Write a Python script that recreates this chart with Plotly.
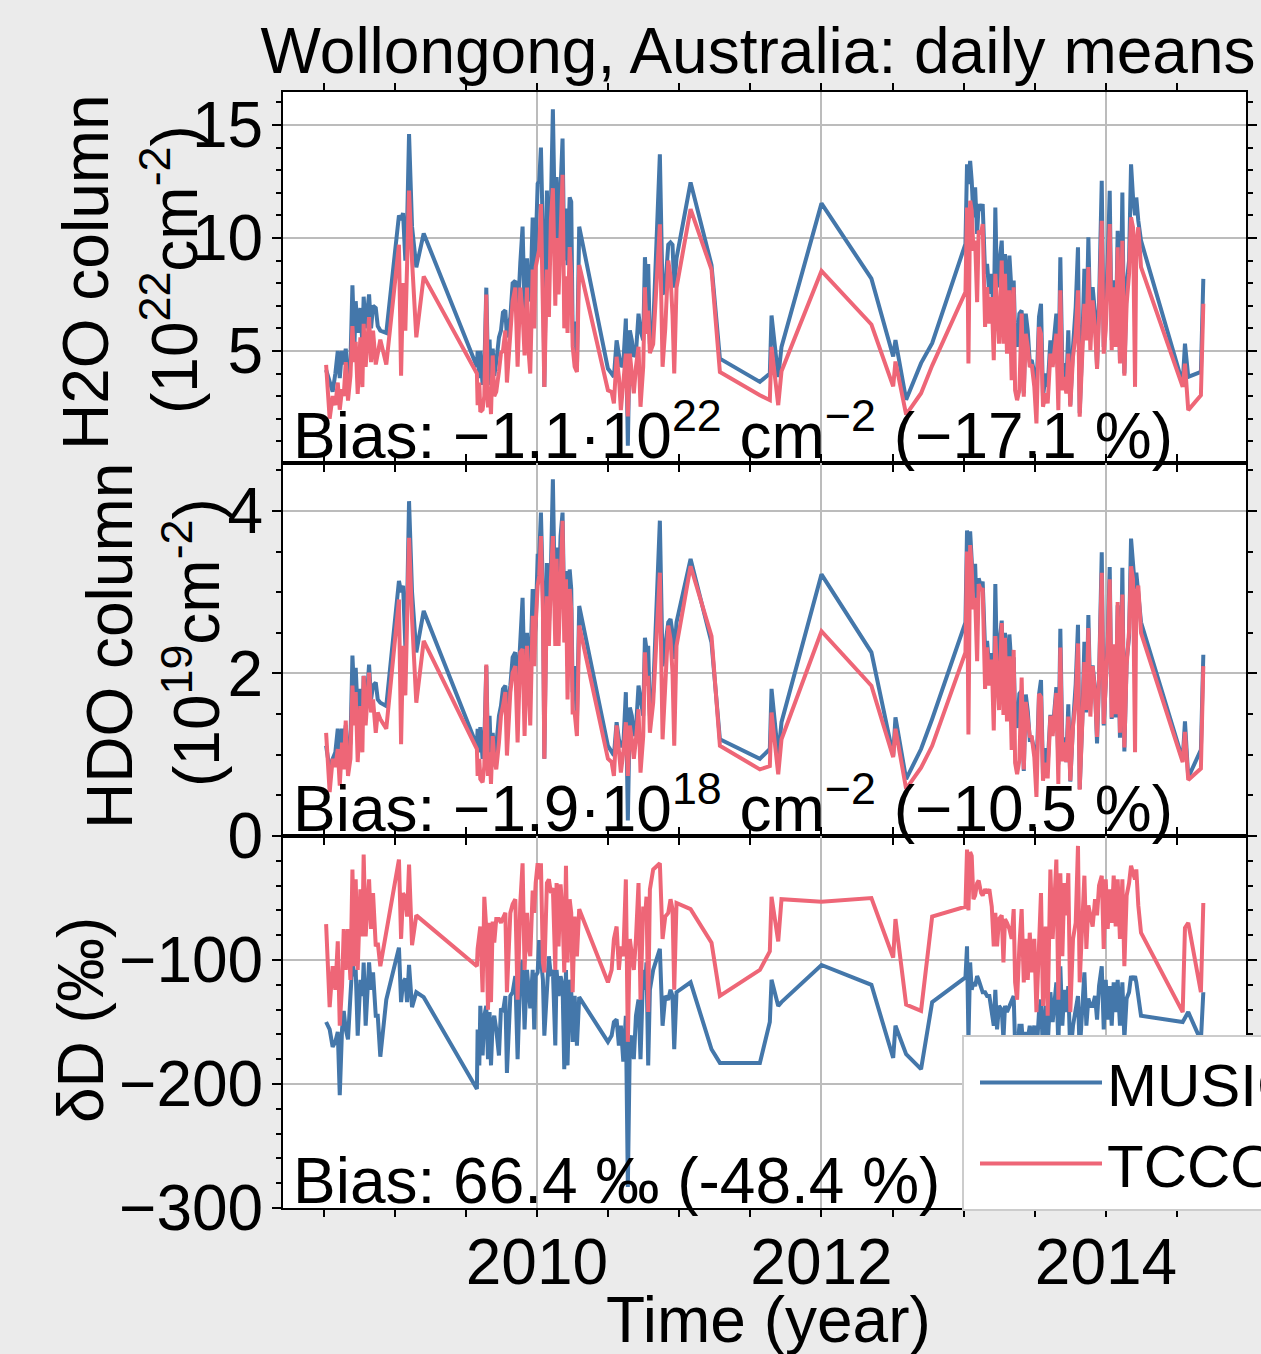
import plotly.graph_objects as go

# ---------------- data (decimal year, daily means) ----------------
years = [2008.518, 2008.543, 2008.564, 2008.583, 2008.600, 2008.614, 2008.630, 2008.642, 2008.656, 2008.672,
         2008.689, 2008.703, 2008.717, 2008.726, 2008.740, 2008.759, 2008.773, 2008.782, 2008.796, 2008.820,
         2008.834, 2008.848, 2008.867, 2008.881, 2008.899, 2008.941, 2009.030, 2009.045, 2009.059, 2009.075,
         2009.087, 2009.101, 2009.122, 2009.152, 2009.204,
         2009.578, 2009.583, 2009.595, 2009.602, 2009.618, 2009.630, 2009.644, 2009.656, 2009.667, 2009.677,
         2009.689, 2009.700, 2009.714, 2009.733, 2009.747, 2009.761, 2009.778, 2009.789, 2009.813, 2009.829,
         2009.848, 2009.864, 2009.883, 2009.899, 2009.913, 2009.930, 2009.941, 2009.953, 2009.970, 2009.981,
         2009.991, 2010.005, 2010.016, 2010.028, 2010.042, 2010.052, 2010.070, 2010.084, 2010.098, 2010.112,
         2010.129, 2010.138, 2010.152, 2010.166, 2010.180, 2010.192, 2010.204, 2010.215, 2010.230, 2010.241,
         2010.251, 2010.265, 2010.281, 2010.297,
         2010.499, 2010.525, 2010.541, 2010.560, 2010.576, 2010.590, 2010.607, 2010.625, 2010.639, 2010.653,
         2010.667, 2010.681, 2010.696, 2010.714, 2010.728, 2010.747, 2010.759, 2010.770, 2010.782, 2010.794,
         2010.817, 2010.864, 2010.883, 2010.902, 2010.923, 2010.939, 2010.953, 2010.965, 2010.981, 2011.080,
         2011.227, 2011.286, 2011.567, 2011.637, 2011.649, 2011.696, 2011.719,
         2012.000, 2012.351, 2012.504, 2012.520, 2012.595, 2012.700, 2012.778, 2013.012,
         2013.023, 2013.033, 2013.045, 2013.056, 2013.068, 2013.080, 2013.094, 2013.105, 2013.122, 2013.133,
         2013.150, 2013.164, 2013.180, 2013.197, 2013.211, 2013.222, 2013.234, 2013.248, 2013.267, 2013.279,
         2013.290, 2013.304, 2013.321, 2013.337, 2013.351, 2013.361, 2013.375, 2013.391, 2013.407, 2013.422,
         2013.436, 2013.450, 2013.464, 2013.478, 2013.496, 2013.511, 2013.529, 2013.543, 2013.557, 2013.576,
         2013.590, 2013.609, 2013.625, 2013.651, 2013.665, 2013.679, 2013.693, 2013.707, 2013.721, 2013.735,
         2013.749, 2013.768, 2013.787, 2013.803, 2013.815, 2013.834, 2013.848, 2013.862, 2013.876, 2013.890,
         2013.906, 2013.923, 2013.937, 2013.951, 2013.970, 2013.984, 2013.998, 2014.012, 2014.026, 2014.040,
         2014.054, 2014.068, 2014.082, 2014.098, 2014.115, 2014.129, 2014.145, 2014.162, 2014.176, 2014.190,
         2014.204, 2014.213, 2014.227, 2014.246, 2014.539, 2014.555, 2014.578, 2014.667, 2014.684]

# H2O column (1e22 cm-2)
h2o_musica = [4.16, 3.6, 3.2, 4.0, 5.0, 3.8, 5.0, 4.4, 5.1, 3.6,
              4.5, 7.9, 5.2, 7.2, 5.8, 6.9, 5.3, 7.4, 6.0, 7.5,
              6.0, 7.0, 6.9, 6.1, 5.9, 5.8, 11.0, 10.8, 11.1, 9.0,
              10.5, 14.6, 10.5, 8.7, 10.2,
              4.3, 5.0, 3.8, 5.0, 3.5, 4.1, 7.8, 4.2, 5.5, 3.5,
              5.1, 3.9, 4.5, 5.6, 5.9, 6.7, 6.8, 5.6, 6.5, 8.0,
              8.1, 6.5, 8.9, 10.5, 6.8, 9.1, 7.5, 7.2, 10.9, 8.3,
              9.5, 12.4, 12.5, 14.0, 10.0, 3.4, 12.1, 8.5, 11.4, 15.7,
              9.5, 12.7, 10.0, 12.5, 14.4, 9.0, 11.3, 8.8, 11.8, 11.6,
              5.8, 6.3, 4.15, 10.5,
              4.22, 4.0, 3.85, 5.47, 4.74, 4.3, 4.44, 6.43, 0.8, 5.91,
              5.47, 4.74, 4.9, 6.65, 5.91, 5.47, 9.15, 7.82, 8.85, 5.3,
              6.0, 13.7, 7.5, 7.8, 9.7, 9.8, 9.7, 7.8, 9.1, 12.46,
              8.8, 4.66, 3.63, 4.0, 6.57, 3.85, 5.18,
              11.53, 8.2, 4.75, 5.48, 2.84, 4.46, 5.34, 9.74,
              13.26, 12.38, 13.41, 12.53, 10.91, 12.24, 10.18, 11.5, 11.21, 11.5,
              8.41, 8.85, 7.53, 8.41, 6.21, 11.35, 7.82, 8.71, 9.88, 7.24,
              9.29, 6.65, 9.22, 7.53, 8.12, 5.76, 5.18, 6.65, 6.79, 3.12,
              6.65, 5.9, 4.5, 4.59, 4.0, 3.12, 6.5, 7.09, 2.97, 4.0,
              3.41, 5.47, 4.88, 6.65, 3.41, 9.15, 4.29, 4.44, 3.41, 5.91,
              2.6, 5.18, 6.94, 9.59, 2.24, 5.47, 8.63, 5.76, 10.03, 6.06,
              7.82, 6.65, 4.29, 7.09, 12.53, 5.18, 6.65, 9.0, 12.09, 5.47,
              8.12, 5.47, 10.32, 4.59, 12.01, 4.0, 7.97, 9.0, 13.26, 11.79,
              11.0, 11.79, 10.76, 9.88, 3.56, 5.32, 3.85, 4.07, 8.19]
h2o_tccon = [4.38, 2.0, 3.0, 2.6, 3.6, 2.4, 3.3, 3.0, 4.5, 2.8,
             3.9, 6.1, 4.5, 5.4, 3.1, 5.6, 3.4, 6.2, 4.3, 6.5,
             4.5, 5.9, 4.4, 5.0, 5.5, 4.4, 9.7, 3.9, 8.0, 5.9,
             8.5, 12.1, 9.0, 5.6, 8.3,
             4.0, 2.6, 3.6, 2.3, 2.4, 3.0, 7.5, 2.5, 3.4, 2.2,
             4.8, 3.0, 3.2, 4.1, 4.9, 5.0, 5.9, 3.6, 5.8, 7.2,
             7.8, 4.3, 7.8, 6.7, 4.8, 7.8, 5.0, 4.0, 8.6, 6.0,
             8.7, 9.2, 9.5, 11.5, 7.5, 3.4, 8.6, 6.5, 10.8, 12.2,
             7.0, 10.0, 7.5, 10.5, 12.8, 6.0, 8.3, 5.8, 9.6, 8.4,
             5.2, 4.3, 4.07, 8.8,
             3.26, 3.19, 2.68, 4.74, 3.85, 2.38, 3.7, 4.88, 2.1, 4.88,
             4.0, 3.12, 4.3, 5.18, 2.53, 4.3, 7.82, 5.76, 6.79, 4.9,
             5.3, 10.6, 4.3, 6.0, 9.0, 8.3, 6.6, 4.0, 7.8, 11.28,
             8.6, 4.07, 3.04, 2.82, 5.18, 2.6, 4.1,
             8.54, 6.17, 3.43, 4.53, 2.18, 3.13, 4.35, 7.61,
             11.35, 4.44, 11.65, 11.21, 9.44, 9.88, 7.16, 10.32, 10.18, 10.62,
             6.06, 7.82, 6.21, 7.38, 4.59, 8.41, 7.09, 5.32, 9.0, 5.32,
             8.41, 4.88, 7.68, 3.71, 7.82, 3.26, 2.82, 3.26, 6.65, 2.97,
             5.76, 5.2, 4.29, 4.4, 3.41, 1.79, 6.06, 5.76, 2.53, 3.12,
             2.68, 4.88, 4.29, 5.76, 2.38, 7.68, 3.26, 3.85, 3.12, 4.88,
             2.53, 4.74, 5.76, 7.68, 2.09, 4.88, 7.09, 5.47, 8.71, 5.03,
             7.24, 5.91, 4.2, 6.5, 10.76, 4.88, 5.91, 8.12, 10.62, 5.03,
             7.82, 5.18, 9.59, 4.44, 9.88, 3.9, 7.09, 8.41, 10.91, 10.47,
             3.41, 9.88, 10.47, 8.71, 3.41, 4.44, 2.38, 3.04, 7.09]

# HDO column (1e19 cm-2)
hdo_musica = [1.11, 0.82, 0.95, 1.03, 1.32, 0.95, 1.32, 1.03, 1.36, 0.95,
              1.15, 2.22, 1.68, 2.07, 1.52, 1.81, 1.36, 1.97, 1.48, 2.11,
              1.68, 1.85, 1.89, 1.68, 1.64, 1.6, 3.14, 3.0, 3.08, 2.34,
              2.79, 4.12, 3.0, 2.26, 2.77,
              1.11, 1.32, 1.03, 1.34, 0.95, 1.15, 2.09, 1.07, 1.48, 0.95,
              1.27, 1.03, 1.11, 1.48, 1.6, 1.81, 1.85, 1.52, 1.85, 2.2,
              2.26, 1.77, 2.46, 2.93, 1.81, 2.5, 2.09, 2.05, 3.04, 2.42,
              2.59, 3.45, 3.45, 3.98, 3.0, 0.95, 3.36, 2.59, 3.28, 4.39,
              2.59, 3.55, 2.83, 3.69, 3.98, 2.71, 3.26, 2.09, 3.28, 3.04,
              1.77, 2.09, 1.4, 2.83,
              1.11, 1.03, 0.99, 1.4, 1.19, 1.11, 1.11, 1.77, 0.19, 1.58,
              1.48, 1.23, 1.32, 1.85, 1.68, 1.48, 2.44, 2.3, 2.34, 1.48,
              1.77, 3.88, 2.09, 2.34, 2.63, 2.67, 2.5, 2.18, 2.63, 3.41,
              2.38, 1.19, 0.95, 1.07, 1.81, 0.98, 1.4,
              3.22, 2.26, 0.99, 1.46, 0.7, 1.07, 1.44, 2.63,
              3.76, 3.40, 3.75, 3.42, 3.00, 3.35, 2.60, 3.17, 3.06, 3.13,
              2.29, 2.40, 2.04, 2.25, 1.64, 3.10, 2.06, 2.34, 2.65, 1.89,
              2.50, 1.78, 2.48, 2.04, 2.20, 1.49, 1.33, 1.75, 1.79, 0.80,
              1.74, 1.54, 1.19, 1.20, 1.06, 0.80, 1.74, 1.92, 0.76, 1.08,
              0.88, 1.49, 1.29, 1.83, 0.88, 2.55, 1.13, 1.21, 0.91, 1.62,
              0.67, 1.37, 1.87, 2.60, 0.58, 1.46, 2.39, 1.52, 2.72, 1.63,
              2.10, 1.80, 1.14, 1.94, 3.49, 1.36, 1.83, 2.39, 3.31, 1.44,
              2.23, 1.46, 2.84, 1.21, 3.30, 1.04, 2.16, 2.45, 3.66, 3.25,
              3.04, 3.24, 2.92, 2.63, 0.94, 1.41, 0.72, 1.06, 2.23]
hdo_tccon = [1.27, 0.54, 0.95, 0.85, 1.07, 0.62, 1.15, 0.82, 1.42, 0.74,
             0.95, 1.85, 1.36, 1.77, 0.91, 1.6, 1.03, 1.97, 1.36, 2.01,
             1.52, 1.68, 1.27, 1.52, 1.44, 1.32, 2.91, 1.13, 2.34, 1.73,
             2.63, 3.67, 2.67, 1.64, 2.4,
             1.07, 0.74, 0.95, 0.7, 0.66, 0.86, 2.11, 0.74, 1.03, 0.64,
             1.23, 0.95, 0.82, 1.15, 1.48, 1.6, 1.77, 0.99, 1.77, 2.01,
             2.09, 1.15, 2.26, 2.3, 1.23, 2.34, 1.68, 1.36, 2.71, 2.09,
             2.59, 3.08, 3.2, 3.69, 2.75, 0.95, 2.95, 2.34, 3.16, 3.69,
             2.34, 3.41, 2.34, 3.36, 3.88, 2.38, 3.16, 1.68, 3.04, 2.79,
             1.52, 1.52, 1.23, 2.59,
             0.95, 0.91, 0.74, 1.36, 1.03, 0.78, 1.03, 1.4, 0.74, 1.36,
             1.19, 0.95, 1.19, 1.56, 0.78, 1.23, 2.26, 1.85, 1.97, 1.27,
             1.64, 3.24, 1.19, 1.81, 2.59, 2.42, 2.01, 1.11, 2.34, 3.32,
             2.46, 1.11, 0.82, 0.86, 1.52, 0.76, 1.19,
             2.52, 1.85, 0.97, 1.32, 0.58, 0.84, 1.11, 2.26,
             3.50, 1.25, 3.58, 3.30, 2.79, 2.93, 2.15, 3.10, 3.02, 3.05,
             1.81, 2.32, 1.85, 2.17, 1.30, 2.46, 2.01, 1.55, 2.62, 1.49,
             2.44, 1.41, 2.21, 1.06, 2.29, 0.90, 0.76, 0.93, 1.95, 0.82,
             1.65, 1.43, 1.23, 1.22, 0.97, 0.48, 1.75, 1.71, 0.68, 0.90,
             0.71, 1.48, 1.23, 1.76, 0.64, 2.32, 0.92, 1.15, 0.91, 1.47,
             0.68, 1.35, 1.67, 2.37, 0.57, 1.42, 2.14, 1.55, 2.56, 1.47,
             2.09, 1.75, 1.22, 1.94, 3.24, 1.38, 1.78, 2.34, 3.16, 1.46,
             2.36, 1.50, 2.88, 1.27, 2.97, 1.09, 2.10, 2.52, 3.32, 3.16,
             1.03, 2.99, 3.08, 2.50, 0.91, 1.28, 0.69, 0.83, 2.09]

# deltaD (permil)
dd_musica = [-150, -156, -170, -166, -158, -209, -156, -141, -156, -164,
             -129, -102, -113, -108, -161, -116, -129, -102, -153, -102,
             -124, -110, -145, -145, -178, -132, -90, -134, -118, -115,
             -134, -104, -138, -126, -130,
             -204, -156, -185, -137, -177, -145, -137, -180, -142, -185,
             -150, -145, -156, -177, -139, -142, -129, -191, -129, -126,
             -113, -180, -110, -100, -156, -108, -129, -139, -108, -156,
             -113, -110, -84, -102, -116, -161, -118, -97, -113, -108,
             -169, -108, -129, -113, -120, -188, -108, -185, -116, -124,
             -166, -129, -169, -130,
             -166, -161, -150, -148, -169, -153, -182, -145, -283, -166,
             -161, -180, -145, -132, -180, -108, -124, -102, -185, -124,
             -108, -91, -153, -129, -132, -124, -129, -172, -126, -118,
             -172, -183, -183, -150, -116, -137, -134,
             -104, -120, -179, -153, -176, -188, -134, -114,
             -89, -165, -102, -124, -118, -121, -113, -116, -124, -126,
             -126, -129, -129, -142, -153, -124, -156, -137, -140, -164,
             -137, -142, -137, -132, -129, -169, -175, -153, -153, -177,
             -158, -164, -153, -164, -153, -177, -142, -132, -175, -137,
             -169, -126, -150, -118, -169, -105, -153, -124, -142, -121,
             -177, -153, -137, -129, -175, -142, -110, -153, -131, -137,
             -137, -129, -148, -121, -105, -156, -116, -148, -121, -153,
             -118, -142, -116, -153, -118, -164, -131, -126, -113, -116,
             -113, -118, -129, -145, -150, -147, -142, -165, -126]
dd_tccon = [-71, -138, -105, -124, -85, -153, -121, -75, -108, -75,
            -116, -27, -105, -35, -108, -43, -81, -15, -81, -35,
            -75, -46, -89, -86, -105, -78, -19, -83, -46, -50,
            -65, -23, -88, -64, -69,
            -105, -91, -75, -73, -126, -49, -75, -140, -70, -134,
            -69, -86, -67, -67, -70, -67, -62, -126, -62, -55,
            -51, -132, -54, -22, -108, -62, -89, -97, -44, -62,
            -38, -22, -35, -22, -102, -110, -38, -35, -46, -42,
            -108, -38, -89, -39, -62, -110, -24, -102, -51, -62,
            -126, -65, -97, -59,
            -118, -108, -83, -73, -108, -89, -97, -35, -166, -83,
            -97, -108, -83, -38, -132, -57, -67, -49, -142, -43,
            -27, -22, -83, -65, -62, -51, -59, -124, -54, -59,
            -86, -129, -108, -93, -49, -85, -51,
            -53, -50, -98, -67, -136, -141, -65, -57,
            -11, -60, -13, -16, -51, -48, -38, -36, -46, -48,
            -43, -46, -43, -57, -89, -62, -89, -67, -64, -102,
            -67, -70, -75, -83, -59, -118, -132, -89, -59, -118,
            -83, -116, -78, -110, -83, -142, -73, -46, -137, -73,
            -145, -27, -83, -19, -132, -30, -97, -38, -64, -30,
            -142, -83, -70, -8, -118, -67, -32, -91, -56, -64,
            -73, -51, -64, -40, -32, -91, -35, -75, -43, -70,
            -32, -73, -35, -83, -35, -105, -48, -38, -24, -30,
            -35, -27, -56, -78, -142, -74, -70, -126, -54]

x_ticks = [2010, 2012, 2014]
x_tick_labels = ["2010", "2012", "2014"]
series_names = ["MUSICA", "TCCON"]
bias_texts = ["Bias: \u22121.1\u00b710<sup>22</sup> cm<sup>\u22122</sup> (\u221217.1 %)",
              "Bias: \u22121.9\u00b710<sup>18</sup> cm<sup>\u22122</sup> (\u221210.5 %)",
              "Bias: 66.4 \u2030 (-48.4 %)"]

# ---------------- styling ----------------
BLUE = "#4477AA"
RED = "#EE6677"
FONT = "Liberation Sans, Arial, Helvetica, sans-serif"
FS = 64
W, H = 1261, 1354
L, R, T, B = 283, 15, 92, 146
PW, PH = W - L - R, H - T - B

fig = go.Figure()
panels = [("x", "y", h2o_musica, h2o_tccon, True),
          ("x2", "y2", hdo_musica, hdo_tccon, False),
          ("x3", "y3", dd_musica, dd_tccon, False)]
for xa, ya, vm, vt, show in panels:
    fig.add_trace(go.Scatter(x=years, y=vm, mode="lines", name=series_names[0],
                             line=dict(color=BLUE, width=4), legendgroup="m",
                             showlegend=show, xaxis=xa, yaxis=ya))
    fig.add_trace(go.Scatter(x=years, y=vt, mode="lines", name=series_names[1],
                             line=dict(color=RED, width=4), legendgroup="t",
                             showlegend=show, xaxis=xa, yaxis=ya))

def py(px):  # pixel row -> paper fraction
    return (H - B - px) / PH

def pxf(px):  # pixel column -> paper fraction
    return (px - L) / PW

grid = dict(showgrid=True, gridcolor="#bcbcbc", gridwidth=2, zeroline=False,
            showline=True, linecolor="black", linewidth=2, mirror="ticks",
            ticks="outside", tickcolor="black", tickwidth=2,
            tickfont=dict(size=FS, color="black", family=FONT))

xbase = dict(grid, range=[2008.215, 2014.984], tickmode="array", tickvals=x_ticks,
             ticktext=x_tick_labels, ticklen=7, ticklabelstandoff=-10,
             minor=dict(tickmode="linear", tick0=2010, dtick=0.5, ticks="outside",
                        ticklen=7, tickwidth=1.5, tickcolor="black", showgrid=False))

ymin = dict(ticks="outside", ticklen=5, tickwidth=1.5, tickcolor="black", showgrid=False,
            tickmode="linear", tick0=0)
doms = [[py(463), 1.0], [py(836), py(463)], [0.0, py(836)]]
fig.update_layout(
    xaxis=dict(xbase, anchor="y", showticklabels=False, matches="x3"),
    xaxis2=dict(xbase, anchor="y2", showticklabels=False, matches="x3"),
    xaxis3=dict(xbase, anchor="y3", showticklabels=True),
    yaxis=dict(grid, domain=doms[0], anchor="x", range=[0.04, 16.46],
               tickmode="array", tickvals=[5, 10, 15], ticklen=9, ticklabelstandoff=-4,
               minor=dict(ymin, dtick=1)),
    yaxis2=dict(grid, domain=doms[1], anchor="x2", range=[0, 4.59],
                tickmode="array", tickvals=[0, 2, 4], ticklen=9, ticklabelstandoff=-4,
                minor=dict(ymin, dtick=0.5)),
    yaxis3=dict(grid, domain=doms[2], anchor="x3", range=[-300, 0],
                tickmode="array", tickvals=[-300, -200, -100], ticklen=9, ticklabelstandoff=-4,
                minor=dict(ymin, dtick=20)),
)

annotations = []
ylabels = [("H2O column", 86, 272), ("(10<sup>22</sup>cm<sup>-2</sup>)", 170, 270),
           ("HDO column", 110, 646), ("(10<sup>19</sup>cm<sup>-2</sup>)", 192, 643),
           ("\u03b4D (\u2030)", 81, 1020)]
for txt, cx, cy in ylabels:
    annotations.append(dict(text=txt, xref="paper", yref="paper", x=pxf(cx), y=py(cy),
                            xanchor="center", yanchor="middle", textangle=-90,
                            showarrow=False, font=dict(size=FS, color="black", family=FONT)))
annotations.append(dict(text="Time (year)", xref="paper", yref="paper", x=pxf(768), y=py(1320),
                        xanchor="center", yanchor="middle", showarrow=False,
                        font=dict(size=FS, color="black", family=FONT)))
for i, txt in enumerate(bias_texts):
    ydom = ["y domain", "y2 domain", "y3 domain"][i]
    xdom = ["x domain", "x2 domain", "x3 domain"][i]
    annotations.append(dict(text=txt, xref=xdom, yref=ydom, x=0.008, y=-0.03,
                            xanchor="left", yanchor="bottom", showarrow=False,
                            font=dict(size=FS, color="black", family=FONT)))

fig.update_layout(
    width=W, height=H,
    margin=dict(l=L, r=R, t=T, b=B, autoexpand=False),
    paper_bgcolor="#ebebeb", plot_bgcolor="white",
    font=dict(family=FONT, size=FS, color="black"),
    title=dict(text="Wollongong, Australia: daily means", xref="container", yref="container",
               x=758 / W, y=1 - 51 / H, xanchor="center", yanchor="middle",
               font=dict(size=FS, color="black", family=FONT)),
    showlegend=True,
    legend=dict(x=pxf(962), y=py(1035), xanchor="left", yanchor="top",
                bgcolor="white", bordercolor="#cccccc", borderwidth=2,
                font=dict(size=60, color="black", family=FONT),
                itemwidth=122, indentation=11, tracegroupgap=0),
    annotations=annotations,
)

fig.write_html("out.html", config={"displayModeBar": False},
               post_script="document.body.style.margin='0px';"
                           "document.body.style.overflow='hidden';"
                           "document.documentElement.style.overflow='hidden';")
